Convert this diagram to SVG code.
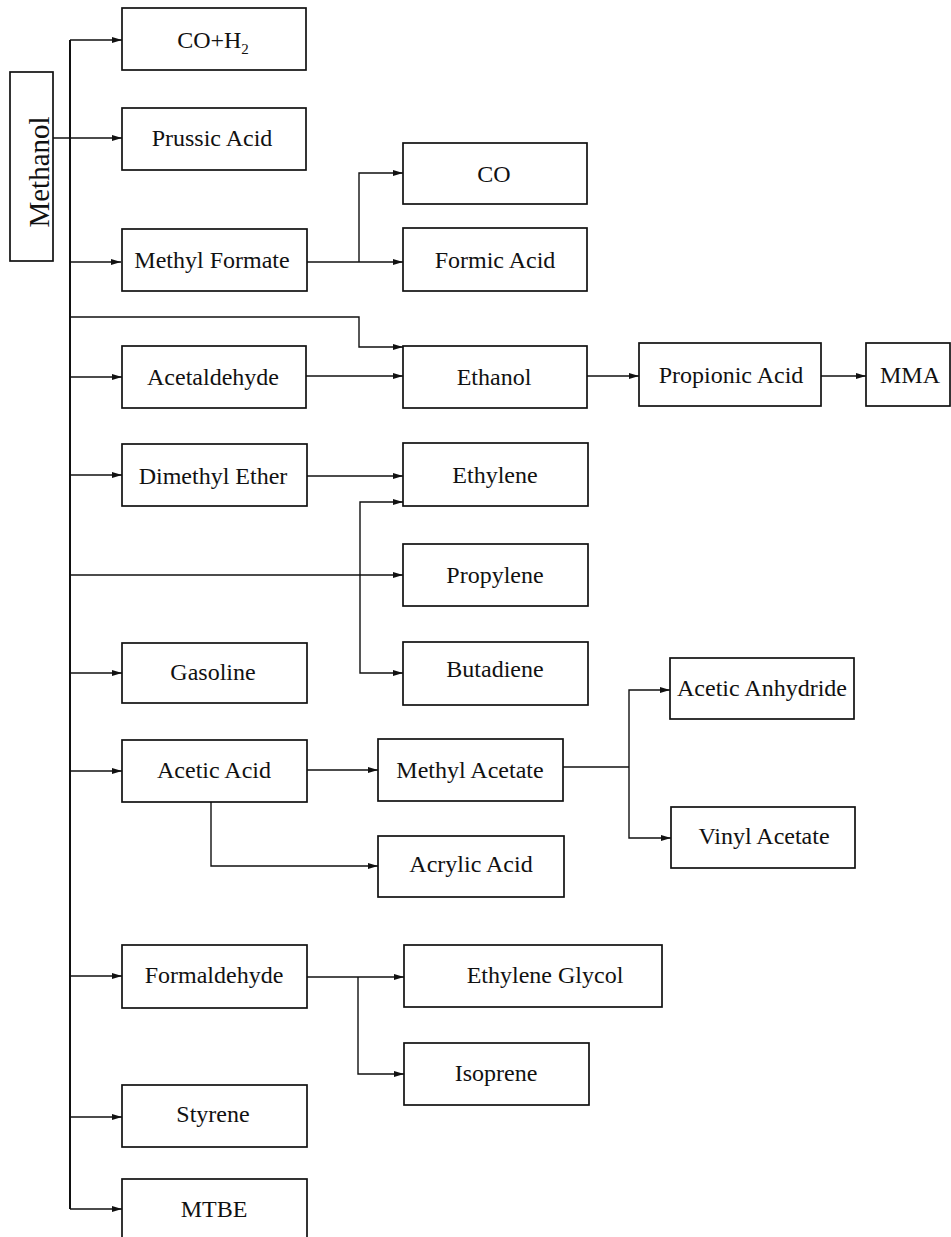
<svg xmlns="http://www.w3.org/2000/svg" width="951" height="1237" viewBox="0 0 951 1237">
<style>
.box{fill:#fff;stroke:#111;stroke-width:1.7}
.t{font-family:"Liberation Serif","Times New Roman",serif;font-size:24px;fill:#111;text-anchor:middle}
.c{fill:none;stroke:#111;stroke-width:1.4}
.a{marker-end:url(#ah)}
</style>
<defs>
<marker id="ah" markerUnits="userSpaceOnUse" markerWidth="10" markerHeight="6" refX="10" refY="3" orient="auto">
<path d="M0,0 L10,3 L0,6 Z" fill="#111"/>
</marker>
</defs>
<rect width="951" height="1237" fill="#fff"/>
<g id="connectors">
<path class="c" style="stroke-width:2" d="M70,40 V1209"/>
<path class="c a" d="M70,40 H122"/>
<path class="c a" d="M53,138 H122"/>
<path class="c a" d="M70,262 H121"/>
<path class="c a" d="M70,317 H359 V347 H403"/>
<path class="c a" d="M70,377 H122"/>
<path class="c a" d="M70,475 H122"/>
<path class="c a" d="M70,575 H403"/>
<path class="c a" d="M70,673 H122"/>
<path class="c a" d="M70,771 H122"/>
<path class="c a" d="M70,976 H122"/>
<path class="c a" d="M70,1117 H122"/>
<path class="c a" d="M70,1209 H122"/>
<path class="c a" d="M307,262 H403"/>
<path class="c a" d="M359,262 V173 H403"/>
<path class="c a" d="M306,376 H403"/>
<path class="c a" d="M587,376 H639"/>
<path class="c a" d="M821,376 H866"/>
<path class="c a" d="M307,476 H403"/>
<path class="c a" d="M360,575 V502 H403"/>
<path class="c a" d="M360,575 V673 H403"/>
<path class="c a" d="M307,770 H378"/>
<path class="c a" d="M211,802 V866 H378"/>
<path class="c" d="M563,767 H629"/>
<path class="c a" d="M629,767 V690 H670"/>
<path class="c a" d="M629,767 V838 H671"/>
<path class="c a" d="M307,977 H404"/>
<path class="c a" d="M358,977 V1074 H404"/>
</g>
<g id="methanol"><rect class="box" x="10" y="72" width="43" height="189"/><text class="t" style="font-size:29px" transform="translate(49,172) rotate(-90)">Methanol</text></g>
<g id="coh2"><rect class="box" x="122" y="8" width="184" height="62"/><text class="t" x="213" y="48">CO+H<tspan font-size="15" dy="6">2</tspan></text></g>
<g id="prussic"><rect class="box" x="122" y="108" width="184" height="62"/><text class="t" x="212" y="146">Prussic Acid</text></g>
<g id="methylformate"><rect class="box" x="122" y="229" width="185" height="62"/><text class="t" x="212" y="268">Methyl Formate</text></g>
<g id="co"><rect class="box" x="403" y="143" width="184" height="61"/><text class="t" x="494" y="182">CO</text></g>
<g id="formic"><rect class="box" x="403" y="228" width="184" height="63"/><text class="t" x="495" y="268">Formic Acid</text></g>
<g id="acetaldehyde"><rect class="box" x="122" y="346" width="184" height="62"/><text class="t" x="213" y="385">Acetaldehyde</text></g>
<g id="ethanol"><rect class="box" x="403" y="346" width="184" height="62"/><text class="t" x="494" y="385">Ethanol</text></g>
<g id="propionic"><rect class="box" x="639" y="343" width="182" height="63"/><text class="t" x="731" y="383">Propionic Acid</text></g>
<g id="mma"><rect class="box" x="866" y="343" width="84" height="63"/><text class="t" x="910" y="383">MMA</text></g>
<g id="dme"><rect class="box" x="122" y="444" width="185" height="62"/><text class="t" x="213" y="484">Dimethyl Ether</text></g>
<g id="ethylene"><rect class="box" x="403" y="443" width="185" height="63"/><text class="t" x="495" y="483">Ethylene</text></g>
<g id="propylene"><rect class="box" x="403" y="544" width="185" height="62"/><text class="t" x="495" y="583">Propylene</text></g>
<g id="butadiene"><rect class="box" x="403" y="642" width="185" height="63"/><text class="t" x="495" y="677">Butadiene</text></g>
<g id="gasoline"><rect class="box" x="122" y="643" width="185" height="60"/><text class="t" x="213" y="680">Gasoline</text></g>
<g id="aceticacid"><rect class="box" x="122" y="740" width="185" height="62"/><text class="t" x="214" y="778">Acetic Acid</text></g>
<g id="methylacetate"><rect class="box" x="378" y="739" width="185" height="62"/><text class="t" x="470" y="778">Methyl Acetate</text></g>
<g id="acrylic"><rect class="box" x="378" y="836" width="186" height="61"/><text class="t" x="471" y="872">Acrylic Acid</text></g>
<g id="anhydride"><rect class="box" x="670" y="658" width="184" height="61"/><text class="t" x="762" y="696">Acetic Anhydride</text></g>
<g id="vinylacetate"><rect class="box" x="671" y="807" width="184" height="61"/><text class="t" x="764" y="844">Vinyl Acetate</text></g>
<g id="formaldehyde"><rect class="box" x="122" y="945" width="185" height="63"/><text class="t" x="214" y="983">Formaldehyde</text></g>
<g id="glycol"><rect class="box" x="404" y="945" width="258" height="62"/><text class="t" x="545" y="983">Ethylene Glycol</text></g>
<g id="isoprene"><rect class="box" x="404" y="1043" width="185" height="62"/><text class="t" x="496" y="1081">Isoprene</text></g>
<g id="styrene"><rect class="box" x="122" y="1085" width="185" height="62"/><text class="t" x="213" y="1122">Styrene</text></g>
<g id="mtbe"><rect class="box" x="122" y="1179" width="185" height="62"/><text class="t" x="214" y="1217">MTBE</text></g>
</svg>
